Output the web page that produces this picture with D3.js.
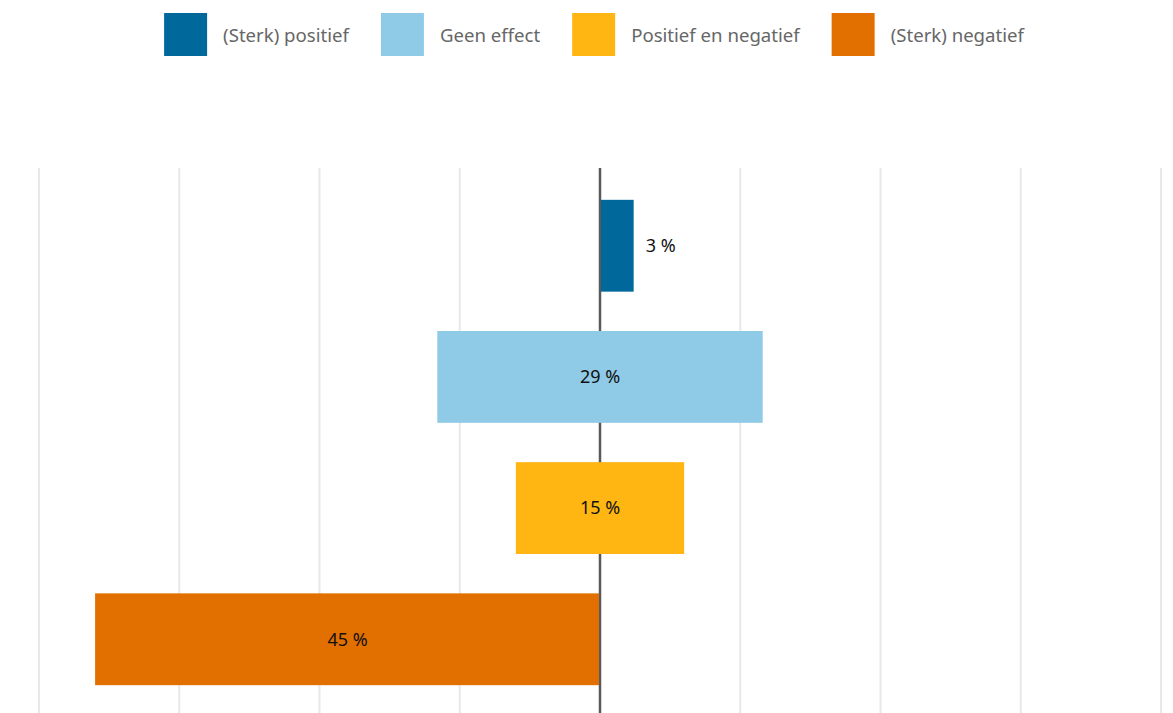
<!DOCTYPE html>
<html>
<head>
<meta charset="utf-8">
<script src="https://cdn.jsdelivr.net/npm/d3@7"></script>
<style>
  body { margin: 0; background: #fff; }
  text { font-family: "Noto Sans", "Open Sans", sans-serif; }
</style>
</head>
<body>
<div id="canvas"></div>
<script>
// Data
var categories = ["(Sterk) positief", "Geen effect", "Positief en negatief", "(Sterk) negatief"];
var values = [3, 29, 15, 45];
// how each bar sits around the zero line
var placement = ["right", "center", "center", "left"];
var colors = ["#01689b", "#8fcae7", "#ffb612", "#e17000"];
var gridTicks = [-50, -37.5, -25, -12.5, 0, 12.5, 25, 37.5, 50];

var w = 1173, h = 713;

var svg = d3.select("#canvas")
    .append("svg")
    .attr("width", w)
    .attr("height", h);

// Scales
var x_scale = d3.scaleLinear()
    .domain([-50, 50])
    .range([39, 1161]);

var y_scale = d3.scaleBand()
    .domain(categories)
    .range([169, 716])
    .paddingInner(0.3)
    .paddingOuter(0.235);

// gridlines
svg.append("g")
    .selectAll("line")
    .data(gridTicks.filter(d => d !== 0))
    .join("line")
    .attr("x1", d => x_scale(d))
    .attr("x2", d => x_scale(d))
    .attr("y1", 168)
    .attr("y2", h)
    .attr("stroke", "#e8e8e8")
    .attr("stroke-width", 2);

// zero line (drawn under the bars)
svg.append("line")
    .attr("x1", x_scale(0))
    .attr("x2", x_scale(0))
    .attr("y1", 168)
    .attr("y2", h)
    .attr("stroke", "#5a5a5a")
    .attr("stroke-width", 2.5);

// bars
function barStart(d, i) {
    if (placement[i] === "right") return x_scale(0);
    if (placement[i] === "left") return x_scale(-d);
    return x_scale(-d / 2);
}
function barEnd(d, i) {
    if (placement[i] === "right") return x_scale(d);
    if (placement[i] === "left") return x_scale(0);
    return x_scale(d / 2);
}

svg.append("g")
    .selectAll("rect")
    .data(values)
    .join("rect")
    .attr("x", (d, i) => barStart(d, i) + (placement[i] === "right" ? 1 : 0))
    .attr("width", (d, i) => barEnd(d, i) - barStart(d, i) - (placement[i] !== "center" ? 1 : 0))
    .attr("y", (d, i) => y_scale(categories[i]))
    .attr("height", y_scale.bandwidth())
    .attr("fill", (d, i) => colors[i]);

// value labels (inside bar unless it is too narrow)
svg.append("g")
    .selectAll("text")
    .data(values)
    .join("text")
    .attr("x", (d, i) => {
        var x0 = barStart(d, i), x1 = barEnd(d, i);
        return (x1 - x0) < 60 ? x1 + 12 : (x0 + x1) / 2;
    })
    .attr("y", (d, i) => y_scale(categories[i]) + y_scale.bandwidth() / 2)
    .attr("dy", "0.35em")
    .attr("text-anchor", (d, i) => (barEnd(d, i) - barStart(d, i)) < 60 ? "start" : "middle")
    .style("font-size", "18px")
    .style("fill", "#111")
    .text(d => d + " %");

// legend
var legend = svg.append("g");
var items = legend.selectAll("g")
    .data(categories)
    .join("g");

items.append("rect")
    .attr("width", 43)
    .attr("height", 43)
    .attr("y", 13)
    .attr("fill", (d, i) => colors[i]);

items.append("text")
    .attr("x", 59)
    .attr("y", 35)
    .attr("dy", "0.35em")
    .style("font-size", "18.6px")
    .style("fill", "#666")
    .text(d => d);

// place items one after another, measured by text width
var offsets = [];
var cursor = 0;
items.each(function() {
    offsets.push(cursor);
    var tw = d3.select(this).select("text").node().getComputedTextLength();
    cursor += 59 + tw + 32;
});
var total = cursor - 32;
var startX = 594 - total / 2;
items.attr("transform", (d, i) => `translate(${startX + offsets[i]},0)`);
</script>
</body>
</html>
